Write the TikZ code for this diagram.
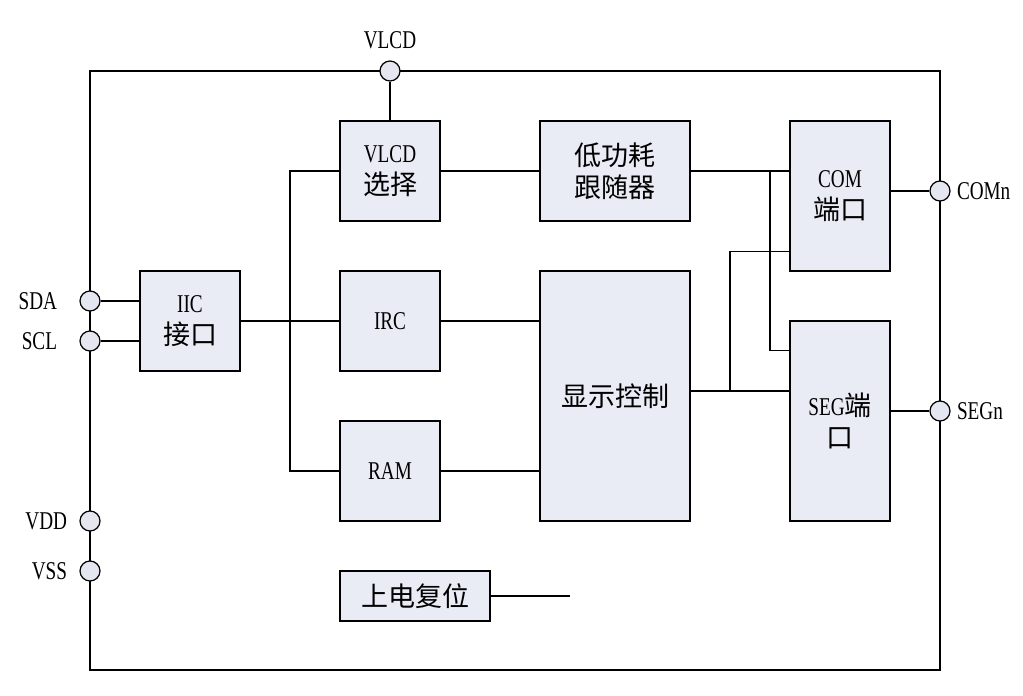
\documentclass[tikz,border=0pt]{standalone}
\usepackage{fontspec}
\setmainfont{Liberation Serif}[FakeStretch=0.75]
\newfontfamily\cjkfont{Noto Sans CJK SC}
\newcommand{\zhtext}[1]{{\cjkfont\fontsize{13.5}{16}\selectfont #1}}
\usepackage{tikz}
\usetikzlibrary{positioning}
\definecolor{boxfill}{HTML}{E9EBF5}
\definecolor{pinfill}{HTML}{E4E6F0}

\begin{document}
\begin{tikzpicture}[x=0.5pt, y=-0.5pt,
  blk/.style={draw, line width=0.7pt, fill=boxfill, align=center, inner sep=0pt,
    font=\fontsize{12.8}{16}\selectfont},
  pin/.style={circle, draw, line width=0.6pt, fill=pinfill, minimum size=10pt, inner sep=0pt},
  lab/.style={font=\fontsize{12.8}{16}\selectfont, inner sep=0pt},
  wire/.style={line width=0.6pt}]
  \useasboundingbox (0,0) rectangle (1023,696);

  % Chip outline
  \draw[wire] (90,71) rectangle (940,670);

  % Blocks
  \node[blk, minimum width=50pt, minimum height=50pt] (vsel) at (390,171) {VLCD\\\zhtext{选择}};
  \node[blk, minimum width=75pt, minimum height=50pt] (follow) at (615,171) {\zhtext{低功耗}\\\zhtext{跟随器}};
  \node[blk, minimum width=50pt, minimum height=75pt] (com) at (840,196) {COM\\\zhtext{端口}};
  \node[blk, minimum width=50pt, minimum height=50pt] (iic) at (190,321) {IIC\\\zhtext{接口}};
  \node[blk, minimum width=50pt, minimum height=50pt] (irc) at (390,321) {IRC};
  \node[blk, minimum width=75pt, minimum height=125pt] (disp) at (615,396) {\zhtext{显示控制}};
  \node[blk, minimum width=50pt, minimum height=100pt] (seg) at (840,421) {SEG\zhtext{端}\\\zhtext{口}};
  \node[blk, minimum width=50pt, minimum height=50pt] (ram) at (390,471) {RAM};
  \node[blk, minimum width=75pt, minimum height=25pt] (por) at (415,596) {\zhtext{上电复位}};

  % Pins
  \node[pin] (vlcd) at (390,71) {};
  \node[pin] (sda) at (90,301) {};
  \node[pin] (scl) at (90,341) {};
  \node[pin] (vdd) at (90,521) {};
  \node[pin] (vss) at (90,571) {};
  \node[pin] (comn) at (940,191) {};
  \node[pin] (segn) at (940,411) {};

  % Pin labels
  \node[lab, above=5.5pt of vlcd] (vlcdlab) {VLCD};
  \node[lab, left=11pt of sda] (sdalab) {SDA};
  \node[lab, left=11pt of scl] (scllab) {SCL};
  \node[lab, left=6pt of vdd] (vddlab) {VDD};
  \node[lab, left=6pt of vss] (vsslab) {VSS};
  \node[lab, right=3pt of comn] (comnlab) {COMn};
  \node[lab, right=3pt of segn] (segnlab) {SEGn};

  % Wiring
  \coordinate (bus) at (290,321);
  \coordinate (tapA) at (770,171);
  \coordinate (tapB) at (730,391);
  \coordinate (porend) at (570,596);
  \draw[wire] (vlcd) -- (vsel.north);
  \draw[wire] (sda) -- (sda -| iic.west);
  \draw[wire] (scl) -- (scl -| iic.west);
  \draw[wire] (iic.east) -- (irc.west);
  \draw[wire] (vsel.west) -- (vsel.west -| bus) -- (ram.west -| bus) -- (ram.west);
  \draw[wire] (irc.east) -- (irc.east -| disp.west);
  \draw[wire] (ram.east) -- (ram.east -| disp.west);
  \draw[wire] (vsel.east) -- (follow.west);
  \draw[wire] (follow.east) -- (follow.east -| com.west);
  \draw[wire] (tapA) |- ([yshift=-15pt]seg.north west);
  \draw[wire] (disp.east |- tapB) -- (seg.west |- tapB);
  \draw[wire] (tapB) |- ([yshift=10pt]com.south west);
  \draw[wire] (com.east |- comn) -- (comn);
  \draw[wire] (seg.east |- segn) -- (segn);
  \draw[wire] (por.east) -- (porend);
\end{tikzpicture}
\end{document}
